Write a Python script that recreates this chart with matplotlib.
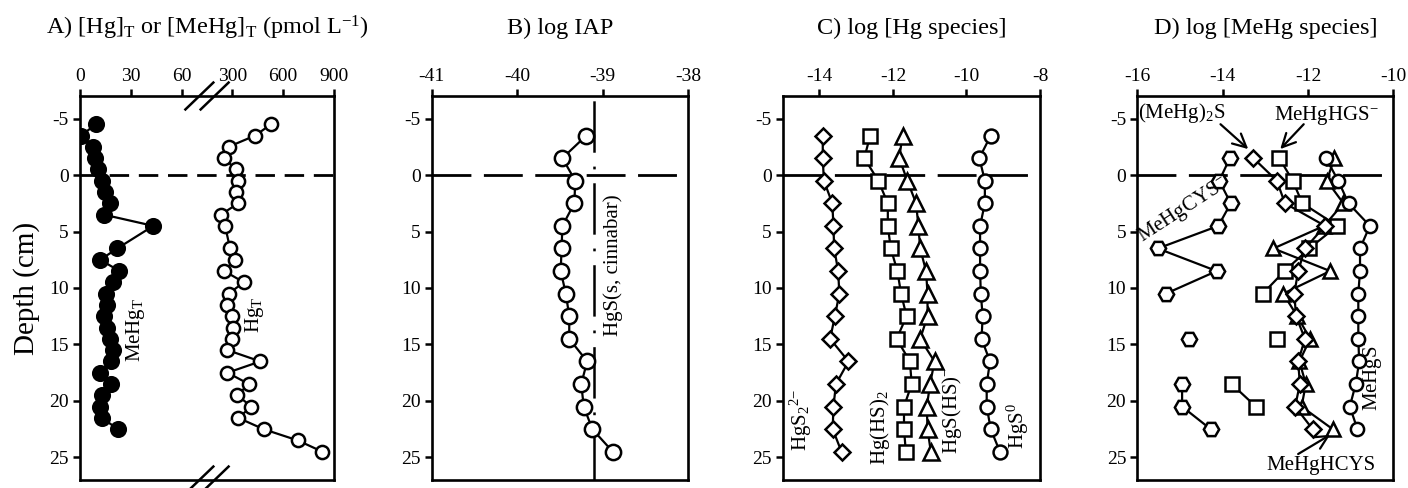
import numpy as np
import matplotlib
matplotlib.use("Agg")
import matplotlib.pyplot as plt

plt.rcParams['font.family'] = ['Liberation Serif', 'DejaVu Serif']
plt.rcParams['mathtext.fontset'] = 'custom'
plt.rcParams['mathtext.rm'] = 'Liberation Serif'
plt.rcParams['mathtext.it'] = 'Liberation Serif:italic'
plt.rcParams['axes.unicode_minus'] = False
plt.rcParams['lines.scale_dashes'] = False

# ---- data ----
# panel A
depth_hg = [-4.5, -3.5, -2.5, -1.5, -0.5, 0.5, 1.5, 2.5, 3.5, 4.5, 6.5, 7.5, 8.5, 9.5, 10.5,
            11.5, 12.5, 13.5, 14.5, 15.5, 16.5, 17.5, 18.5, 19.5, 20.5, 21.5, 22.5, 23.5, 24.5]
hg_t = [528, 435, 277, 252, 319, 335, 323, 335, 232, 257, 286, 315, 252, 368, 277,
        271, 300, 306, 300, 271, 465, 271, 397, 329, 412, 335, 484, 687, 832]
depth_mehg = [-4.5, -3.5, -2.5, -1.5, -0.5, 0.5, 1.5, 2.5, 3.5, 4.5, 6.5, 7.5, 8.5, 9.5,
              10.5, 11.5, 12.5, 13.5, 14.5, 15.5, 16.5, 17.5, 18.5, 19.5, 20.5, 21.5, 22.5]
mehg_t = [9.5, 0.6, 7.8, 8.7, 10.6, 12.9, 14.8, 17.7, 13.9, 43.3, 22.0, 12.0, 23.3, 19.5,
          15.4, 15.8, 13.9, 15.8, 17.7, 19.5, 18.6, 11.6, 18.2, 12.9, 11.6, 12.9, 22.4]
a_ticks = [0, 30, 60, 300, 600, 900]

# panel B and C share depths
depth_bc = [-3.5, -1.5, 0.5, 2.5, 4.5, 6.5, 8.5, 10.5, 12.5, 14.5, 16.5, 18.5, 20.5, 22.5, 24.5]
log_iap = [-39.19, -39.47, -39.32, -39.33, -39.47, -39.48, -39.49, -39.43, -39.39, -39.39,
           -39.18, -39.25, -39.22, -39.12, -38.88]
cinnabar = -39.1

hgs2 = [-13.91, -13.91, -13.88, -13.65, -13.62, -13.60, -13.49, -13.46, -13.58, -13.71,
        -13.21, -13.55, -13.62, -13.64, -13.40]
hg_hs2 = [-12.62, -12.78, -12.40, -12.14, -12.14, -12.06, -11.88, -11.78, -11.63, -11.90,
          -11.54, -11.49, -11.70, -11.70, -11.65]
hgs_hs = [-11.74, -11.83, -11.61, -11.37, -11.31, -11.26, -11.10, -11.06, -11.06, -11.26,
          -10.87, -10.99, -11.08, -11.06, -10.97]
hgs0 = [-9.34, -9.65, -9.50, -9.50, -9.63, -9.63, -9.63, -9.61, -9.56, -9.59,
        -9.36, -9.45, -9.45, -9.34, -9.09]

# panel D (nan = no value)
depth_d = [-1.5, 0.5, 2.5, 4.5, 6.5, 8.5, 10.5, 12.5, 14.5, 16.5, 18.5, 20.5, 22.5]
mehg_cys = [-13.83, -14.08, -13.81, -14.10, -15.52, -14.14, -15.33, np.nan, -14.78, np.nan,
            -14.95, -14.95, -14.28]
mehg2s = [-13.28, -12.73, -12.54, -11.60, -12.07, -12.23, -12.32, -12.28, -12.07, -12.23,
          -12.19, -12.30, -11.89]
mehg_hgs = [-12.67, -12.36, -12.13, -11.31, -11.97, -12.55, -13.06, np.nan, -12.73, np.nan,
            -13.79, -13.22, np.nan]
mehg_hcys = [-11.38, -11.56, -11.17, -11.62, -12.81, -11.48, -12.58, -12.25, -11.95, -12.20,
             -12.05, -12.15, -11.42]
mehg_s = [-11.58, -11.29, -11.05, -10.55, -10.78, -10.78, -10.82, -10.82, -10.82, -10.80,
          -10.88, -11.02, -10.84]

LW = 1.6
MEW = 1.8
FS = 14
LFS = 15


def style(ax, xlim, xticks, xticklabels=None):
    ax.set_ylim(27, -7)
    ax.set_xlim(*xlim)
    ax.set_yticks([-5, 0, 5, 10, 15, 20, 25])
    ax.set_xticks(xticks)
    if xticklabels is not None:
        ax.set_xticklabels(xticklabels)
    ax.xaxis.tick_top()
    ax.tick_params(direction='out', length=5, width=1.8, labelsize=FS, pad=3)
    for s in ax.spines.values():
        s.set_linewidth(1.9)


def series(ax, x, y, marker, ms, filled=False):
    ax.plot(x, y, color='black', lw=LW, marker=marker, ms=ms, mew=MEW,
            mfc='black' if filled else 'white', mec='black', zorder=3)


fig = plt.figure(figsize=(14.08, 4.88), dpi=100)
bot = 1 - 480 / 488
hgt = (480 - 96) / 488
axA = fig.add_axes([80 / 1408, bot, 254 / 1408, hgt])
axB = fig.add_axes([431.7 / 1408, bot, 256.3 / 1408, hgt])
axC = fig.add_axes([782.7 / 1408, bot, 257.3 / 1408, hgt])
axD = fig.add_axes([1137.3 / 1408, bot, 256 / 1408, hgt])


# panel A: broken x axis through a piecewise scale
def fwd(v):
    v = np.asarray(v, dtype=float)
    return np.where(v <= 75, v / 30, np.where(v >= 150, 2 + v / 300, 2.5))


def inv(u):
    u = np.asarray(u, dtype=float)
    return np.where(u <= 2.5, u * 30, (u - 2) * 300)


axA.set_xscale('function', functions=(fwd, inv))
style(axA, (0, 900), a_ticks, [str(t) for t in a_ticks])
axA.axhline(0, color='black', lw=2, dashes=(14, 7), zorder=1)
series(axA, mehg_t, depth_mehg, 'o', 10.5, filled=True)
series(axA, hg_t, depth_hg, 'o', 9.5)
axA.text(33, 13.7, 'MeHg$_\\mathrm{T}$', rotation=90, ha='center', va='center', fontsize=LFS)
axA.text(429, 12.4, 'Hg$_\\mathrm{T}$', rotation=90, ha='center', va='center', fontsize=LFS)
for yb in (1.0, 0.0):
    for xb in (0.47, 0.53):
        axA.plot([xb - 0.055, xb + 0.055], [yb - 0.035, yb + 0.035], color='black', lw=1.8,
                 transform=axA.transAxes, clip_on=False)
axA.set_ylabel('Depth (cm)', fontsize=21, labelpad=7)

# panel B
style(axB, (-41, -38), [-41, -40, -39, -38])
axB.axhline(0, color='black', lw=2, dashes=(28, 9), zorder=1)
axB.axvline(cinnabar, color='black', lw=1.8, dashes=(37, 10, 2, 10), zorder=1)
series(axB, log_iap, depth_bc, 'o', 11)
axB.text(-38.88, 8, 'HgS(s, cinnabar)', rotation=90, ha='center', va='center', fontsize=LFS)

# panel C
style(axC, (-15, -8), [-14, -12, -10, -8])
axC.axhline(0, color='black', lw=2, dashes=(28, 9), zorder=1)
series(axC, hgs2, depth_bc, 'D', 8.2)
series(axC, hg_hs2, depth_bc, 's', 9.5)
series(axC, hgs_hs, depth_bc, '^', 11)
series(axC, hgs0, depth_bc, 'o', 10)
axC.text(-14.51, 21.7, 'HgS$_2$$^{2\\mathrm{-}}$', rotation=90, ha='center', va='center', fontsize=LFS)
axC.text(-12.34, 22.4, 'Hg(HS)$_2$', rotation=90, ha='center', va='center', fontsize=LFS)
axC.text(-10.39, 20.8, 'HgS(HS)$^\\mathrm{-}$', rotation=90, ha='center', va='center', fontsize=LFS)
axC.text(-8.59, 22.2, 'HgS$^0$', rotation=90, ha='center', va='center', fontsize=LFS)

# panel D
style(axD, (-16, -10), [-16, -14, -12, -10])
axD.axhline(0, color='black', lw=2, dashes=(28, 9), zorder=1)
series(axD, mehg_hcys, depth_d, '^', 10.5)
series(axD, mehg_hgs, depth_d, 's', 9.5)
series(axD, mehg2s, depth_d, 'D', 8.2)
series(axD, mehg_cys, depth_d, 'H', 11)
series(axD, mehg_s, depth_d, 'o', 9.5)
arrow = dict(arrowstyle='->', color='black', lw=1.6, mutation_scale=24, shrinkA=0, shrinkB=0)
axD.text(-14.95, -5.5, '(MeHg)$_2$S', ha='center', va='center', fontsize=LFS)
axD.annotate('', xy=(-13.40, -2.3), xytext=(-14.05, -4.5), arrowprops=arrow)
axD.text(-11.56, -5.3, 'MeHgHGS$^\\mathrm{-}$', ha='center', va='center', fontsize=LFS)
axD.annotate('', xy=(-12.65, -2.3), xytext=(-12.10, -4.5), arrowprops=arrow)
axD.text(-11.70, 25.7, 'MeHgHCYS', ha='center', va='center', fontsize=LFS)
axD.annotate('', xy=(-11.48, 23.0), xytext=(-12.23, 24.7), arrowprops=arrow)
axD.text(-14.92, 3.1, 'MeHgCYS$^\\mathrm{-}$', rotation=33, ha='center', va='center', fontsize=LFS)
axD.text(-10.48, 17.6, 'MeHgS$^\\mathrm{-}$', rotation=90, ha='center', va='center', fontsize=LFS)

titles = ['A) [Hg]$_\\mathrm{T}$ or [MeHg]$_\\mathrm{T}$ (pmol L$^{\\mathrm{-1}}$)',
          'B) log IAP', 'C) log [Hg species]', 'D) log [MeHg species]']
for ax, t in zip([axA, axB, axC, axD], titles):
    ax.text(0.5, 1.161, t, transform=ax.transAxes, ha='center', va='baseline', fontsize=17.5)

fig.savefig('out.png', dpi=100)
